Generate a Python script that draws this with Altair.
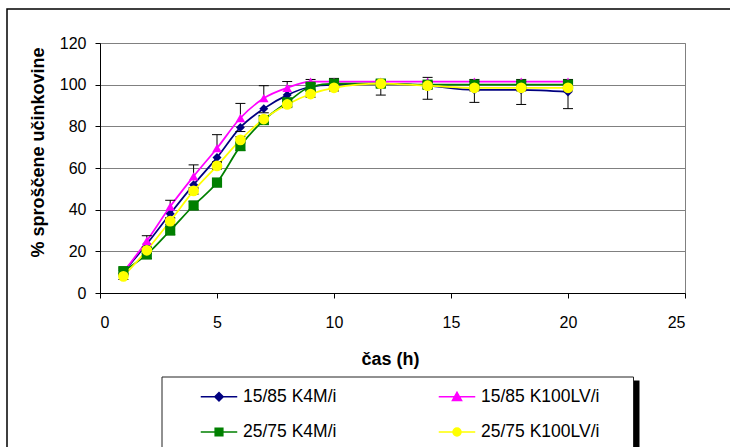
import altair as alt
import pandas as pd

# sampling times (h)
times = [1, 2, 3, 4, 5, 6, 7, 8, 9, 10, 12, 14, 16, 18, 20]

series_names = ["15/85 K4M/i", "15/85 K100LV/i", "25/75 K4M/i", "25/75 K100LV/i"]
series_colors = ["#000080", "#FF00FF", "#008000", "#FFFF00"]
marker_shapes = ["diamond", "triangle-up", "square", "circle"]
marker_sizes = [80, 115, 60, 85]

# % released drug, mean values
k4m_15 = [10, 23.5, 38, 52, 65, 79.5, 88.5, 95, 99, 100, 100.5, 99.5, 97.5, 97.5, 96.5]
k100lv_15 = [10, 25, 41.5, 56, 69.5, 84, 93.5, 98.5, 101.5, 101.5, 101.5, 101.5, 101.5, 101.5, 101.5]
k4m_25 = [10.5, 18.5, 30, 42, 53, 70.5, 83, 91.5, 99, 100.5, 100.5, 100, 100, 100, 100]
k100lv_25 = [8, 20.5, 34.5, 49, 61, 73.5, 83.5, 90.5, 95.5, 98.5, 100.5, 99.5, 98.5, 98.5, 98.5]

# error bars (SD): lower and upper lengths
k4m_15_lo = [1, 1.5, 2, 2, 2, 2, 2, 2, 2, 2, 5.5, 6.5, 6, 7, 8]
k4m_15_hi = [0, 0, 0, 0, 0, 0, 0, 0, 0, 0, 0, 0, 0, 0, 0]
k100lv_15_lo = [0, 0, 0, 0, 0, 0, 0, 0, 0, 0, 0, 0, 0, 0, 0]
k100lv_15_hi = [1, 2.5, 3, 5.5, 6.5, 7, 6, 3, 1, 1.5, 1, 2, 1, 1, 1]
k4m_25_lo = [1.5, 2, 2, 2, 2, 2, 2, 2, 1.5, 1.5, 1.5, 1.5, 1.5, 1.5, 1.5]
k4m_25_hi = [1.5, 2, 2, 2, 2, 2, 2, 2, 1.5, 1.5, 1.5, 1.5, 1.5, 1.5, 1.5]
k100lv_25_lo = [1.5, 1.5, 1.5, 1.5, 1.5, 1.5, 1.5, 1.5, 1.5, 1.5, 1.5, 1.5, 1.5, 1.5, 1.5]
k100lv_25_hi = [1.5, 1.5, 1.5, 1.5, 1.5, 1.5, 1.5, 1.5, 1.5, 1.5, 1.5, 1.5, 1.5, 1.5, 1.5]

x_ticks = [0, 5, 10, 15, 20, 25]
y_ticks = [0, 20, 40, 60, 80, 100, 120]

FONT = "Liberation Sans"

means = [k4m_15, k100lv_15, k4m_25, k100lv_25]
lows = [k4m_15_lo, k100lv_15_lo, k4m_25_lo, k100lv_25_lo]
highs = [k4m_15_hi, k100lv_15_hi, k4m_25_hi, k100lv_25_hi]

rows, caps = [], []
for name, m, lo, hi in zip(series_names, means, lows, highs):
    for t, v, a, b in zip(times, m, lo, hi):
        rows.append({"t": t, "v": v, "lo": v - a, "hi": v + b, "s": name})
        if a > 0:
            caps.append({"t": t, "c": v - a, "s": name})
        if b > 0:
            caps.append({"t": t, "c": v + b, "s": name})
df = pd.DataFrame(rows)
cap_df = pd.DataFrame(caps)

x_enc = alt.X("t:Q", scale=alt.Scale(domain=[0, 25], nice=False),
              axis=alt.Axis(values=x_ticks, title="čas (h)", grid=False,
                            labelPadding=16, titleY=71, titleX=290,
                            titleBaseline="alphabetic"))
y_axis = alt.Axis(values=y_ticks, title="% sproščene učinkovine", grid=True,
                  labelPadding=9, titleAngle=270, titleX=-61.5, titleY=109,
                  titleAlign="center", titleBaseline="middle")
y_scale = alt.Scale(domain=[0, 120], nice=False)
color_scale = alt.Scale(domain=series_names, range=series_colors)

base = alt.Chart(df)

lines = base.mark_line(interpolate="monotone", strokeWidth=1.75).encode(
    x=x_enc,
    y=alt.Y("v:Q", scale=y_scale, axis=y_axis),
    color=alt.Color("s:N", scale=color_scale, legend=None),
    detail="s:N",
)

err = base.mark_rule(color="black", strokeWidth=1).encode(
    x="t:Q", y="lo:Q", y2="hi:Q"
)

err_caps = alt.Chart(cap_df).mark_point(
    shape="M-1,0L1,0", size=100, filled=False, stroke="black",
    strokeWidth=1, opacity=1
).encode(x="t:Q", y="c:Q")

markers = base.mark_point(filled=True, opacity=1, strokeWidth=1).encode(
    x="t:Q",
    y="v:Q",
    color=alt.Color("s:N", scale=color_scale, legend=None),
    shape=alt.Shape("s:N", scale=alt.Scale(domain=series_names, range=marker_shapes), legend=None),
    size=alt.Size("s:N", scale=alt.Scale(domain=series_names, range=marker_sizes), legend=None),
)

# legend symbols: a short line with the series marker on it
legend_paths = [
    "M-1,0L1,0M-0.23,0L0,-0.23L0.23,0L0,0.23Z",
    "M-1,0L1,0M0,-0.24L0.25,0.2L-0.25,0.2Z",
    "M-1,0L1,0M-0.21,-0.21L0.21,-0.21L0.21,0.21L-0.21,0.21Z",
    "M-1,0L1,0M0.22,0A0.22,0.22 0 1,1 -0.22,0A0.22,0.22 0 1,1 0.22,0Z",
]
# the legend grid fills column by column: list entries in that order
legend_order = [0, 2, 1, 3]
leg_names = [series_names[i] for i in legend_order]
leg_colors = [series_colors[i] for i in legend_order]
leg_paths = [legend_paths[i] for i in legend_order]

legend_def = alt.Legend(
    orient="none", legendX=100, legendY=334.5, columns=2, title=None,
    columnPadding=98, rowPadding=7.5, padding=0, symbolSize=1332,
    symbolStrokeWidth=1.5, symbolOpacity=1, labelOffset=5,
    labelFont=FONT, labelFontSize=17.5, labelColor="black",
    labelBaseline="middle",
)
legend_layer = base.mark_point(filled=True, opacity=0).encode(
    x="t:Q",
    y="v:Q",
    fill=alt.Fill("s:N", scale=alt.Scale(domain=leg_names, range=leg_colors), legend=legend_def),
    stroke=alt.Stroke("s:N", scale=alt.Scale(domain=leg_names, range=leg_colors), legend=legend_def),
    shape=alt.Shape("s:N", scale=alt.Scale(domain=leg_names, range=leg_paths), legend=legend_def),
)

one = alt.Data(values=[{"k": 0}])
frame = alt.Chart(one).mark_rect(fill="white", fillOpacity=0, stroke="black", strokeWidth=1.5).encode(
    x=alt.value(-93), x2=alt.value(660), y=alt.value(-34), y2=alt.value(440)
)
legend_box = alt.Chart(one).mark_rect(fill="white", fillOpacity=0, stroke="#222222", strokeWidth=1).encode(
    x=alt.value(62), x2=alt.value(533.5), y=alt.value(334), y2=alt.value(440)
)
legend_shadow = alt.Chart(one).mark_rect(fill="black", strokeWidth=0).encode(
    x=alt.value(534), x2=alt.value(539.5), y=alt.value(337.5), y2=alt.value(440)
)

chart = alt.layer(
    frame, legend_box, legend_shadow, lines, err, err_caps, markers, legend_layer
).resolve_scale(
    shape="independent", fill="independent", stroke="independent", size="independent"
).properties(
    width=585, height=250,
    autosize=alt.AutoSizeParams(type="none"),
    padding={"left": 100, "top": 43, "right": 45, "bottom": 154},
    background="white",
).configure_view(
    stroke="#808080", strokeWidth=1
).configure_axis(
    labelFont=FONT, labelFontSize=16, labelColor="black",
    titleFont=FONT, titleFontSize=18, titleFontWeight="bold", titleColor="black",
    domainColor="black", domainWidth=1, tickColor="black", tickSize=5, tickWidth=1,
    gridColor="#808080", gridWidth=1,
)

chart.save("out.html", embed_options={"renderer": "svg", "actions": False})
